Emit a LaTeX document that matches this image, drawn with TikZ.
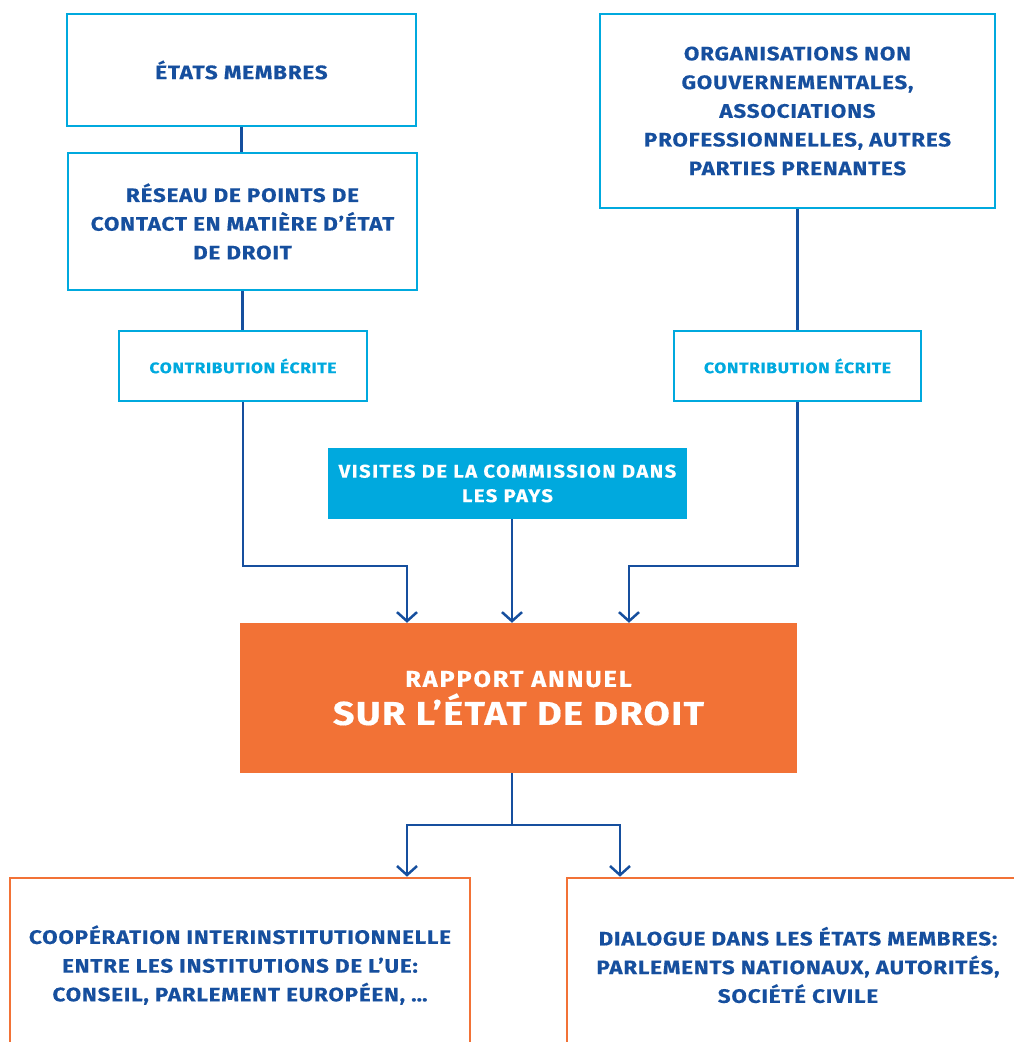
\documentclass[tikz,border=0pt]{standalone}
\usepackage{fontspec}
\setmainfont{Fira Sans}[FakeStretch=1.15, LetterSpace=4, BoldFeatures={FakeBold=0.4}]
\newfontfamily\wideface{Fira Sans}[FakeStretch=1.1, LetterSpace=8, BoldFeatures={FakeBold=0.4}]
\usetikzlibrary{positioning,calc,arrows.meta}
\definecolor{eucyan}{HTML}{00A9DE}
\definecolor{eublue}{HTML}{164F9E}
\definecolor{euorange}{HTML}{F27236}

\begin{document}
\begin{tikzpicture}[x=1pt,y=-1pt,
	box/.style={draw=eucyan, line width=2.6pt, align=center, text=eublue, inner sep=0pt,
		font=\bfseries\fontsize{19.5}{28.7}\selectfont},
	contrib/.style={box, text=eucyan, font=\bfseries\fontsize{15.2}{20}\selectfont},
	fillbox/.style={align=center, text=white, inner sep=0pt},
	outbox/.style={box, draw=euorange},
	link/.style={draw=eublue, line width=2.5pt},
	arr/.style={link, -{Straight Barb[length=9pt, width=20pt, line width=2.5pt]}}]
	\clip (0,0) rectangle (1014,1042);
	% upper boxes
	\node[box, minimum width=349pt, minimum height=112pt] (etats) at (241.5,70) {ÉTATS MEMBRES};
	\node[box, minimum width=349pt, minimum height=137pt] (reseau) at (242.5,221.5)
		{RÉSEAU DE POINTS DE\\CONTACT EN MATIÈRE D’ÉTAT\\DE DROIT};
	\node[contrib, minimum width=248pt, minimum height=70pt] (contribG) at (243,366) {CONTRIBUTION ÉCRITE};
	\node[box, minimum width=395pt, minimum height=194pt] (ong) at (797.5,111)
		{ORGANISATIONS NON\\GOUVERNEMENTALES,\\ASSOCIATIONS\\PROFESSIONNELLES, AUTRES\\PARTIES PRENANTES};
	\node[contrib, minimum width=247pt, minimum height=70pt] (contribD) at (797.5,366) {CONTRIBUTION ÉCRITE};
	\node[fillbox, fill=eucyan, minimum width=359pt, minimum height=71pt,
		font=\bfseries\wideface\fontsize{18.4}{24.5}\selectfont] (visites) at (507.5,483.5)
		{VISITES DE LA COMMISSION DANS\\LES PAYS};
	% report
	\node[fillbox, fill=euorange, minimum width=557pt, minimum height=150pt,
		font=\bfseries\fontsize{23}{40}\selectfont] (rapport) at (518.5,698)
		{{\wideface RAPPORT ANNUEL}\\[-2pt]
		{\fontsize{33}{40}\selectfont SUR L’ÉTAT DE DROIT}};
	% lower boxes
	\node[outbox, minimum width=460pt, minimum height=174pt] (coop) at (240,965)
		{COOPÉRATION INTERINSTITUTIONNELLE\\ENTRE LES INSTITUTIONS DE L’UE:\\CONSEIL, PARLEMENT EUROPÉEN, \dots};
	\node[outbox, minimum width=462pt, minimum height=174pt] (dialogue) at (798,965)
		{DIALOGUE DANS LES ÉTATS MEMBRES:\\PARLEMENTS NATIONAUX, AUTORITÉS,\\SOCIÉTÉ CIVILE};
	% connectors
	\coordinate (jG) at (407,566);
	\coordinate (jD) at (629,566);
	\coordinate (jM) at (512,566);
	\coordinate (fork) at (512,825);
	\coordinate (fG) at (407,825);
	\coordinate (fD) at (620,825);
	\draw[link] (etats.south) -- (etats.south |- reseau.north);
	\draw[link] (reseau.south) -- (reseau.south |- contribG.north);
	\draw[link] (ong) -- (contribD);
	\draw[arr] (contribG.south) |- (jG) -- (jG |- rapport.north);
	\draw[arr] (contribD.south) |- (jD) -- (jD |- rapport.north);
	\draw[arr] (jM |- visites.south) -- (jM |- rapport.north);
	\draw[link] (fork |- rapport.south) -- (fork);
	\draw[arr] (fork) -- (fG) -- (fG |- coop.north);
	\draw[arr] (fork) -- (fD) -- (fD |- dialogue.north);
\end{tikzpicture}
\end{document}
